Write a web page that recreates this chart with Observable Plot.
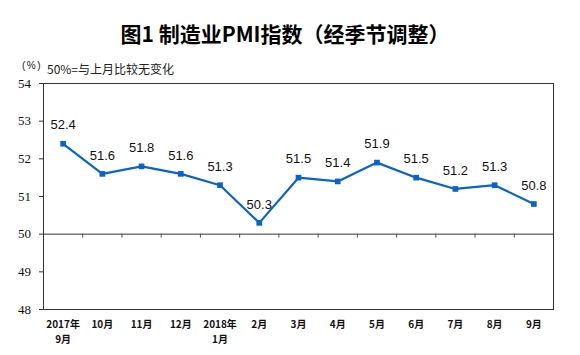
<!DOCTYPE html>
<html>
<head>
<meta charset="utf-8">
<script src="https://cdn.jsdelivr.net/npm/d3@7"></script>
<script src="https://cdn.jsdelivr.net/npm/@observablehq/plot@0.6"></script>
<style>
  html, body { margin: 0; padding: 0; background: #fff; }
  #wrap { position: relative; width: 580px; height: 355px; overflow: hidden; }
  #title { position: absolute; left: 0; width: 570px; top: 19px; text-align: center;
    font-family: "Noto Sans CJK SC", sans-serif; font-weight: bold; font-size: 21px; line-height: 28px; color: #000; }
  #unit { position: absolute; left: 22px; top: 58px; font-family: "Liberation Sans", sans-serif; font-size: 10px; line-height: 16px; letter-spacing: 1.5px; color: #222; }
  #note { position: absolute; left: 47px; top: 61px; font-family: "Noto Sans CJK SC", sans-serif; font-size: 12px; line-height: 16px; color: #222; }
  #chart { position: absolute; left: 0; top: 0; }
</style>
</head>
<body>
<div id="wrap">
  <div id="chart"></div>
  <div id="title">图1 制造业PMI指数（经季节调整）</div>
  <div id="unit">(%)</div>
  <div id="note">50%=与上月比较无变化</div>
</div>
<script>
const months = ["2017年\n9月", "10月", "11月", "12月", "2018年\n1月", "2月", "3月", "4月", "5月", "6月", "7月", "8月", "9月"];
const pmi = [52.4, 51.6, 51.8, 51.6, 51.3, 50.3, 51.5, 51.4, 51.9, 51.5, 51.2, 51.3, 50.8];
const yTicks = [48, 49, 50, 51, 52, 53, 54];

const data = pmi.map((v, i) => ({i, v, label: months[i]}));
const boundaries = d3.range(0.5, months.length - 1, 1);

const chart = Plot.plot({
  width: 580,
  height: 355,
  marginLeft: 43,
  marginRight: 27,
  marginTop: 83,
  marginBottom: 46,
  style: {background: "transparent"},
  x: {domain: [-0.5, months.length - 0.5], axis: null},
  y: {domain: [48, 54], axis: null},
  marks: [
    Plot.frame({stroke: "#333", strokeWidth: 1}),
    Plot.ruleY([50], {stroke: "#333", strokeWidth: 1}),
    Plot.ruleX(boundaries, {x: d => d, y1: 50, y2: 50, insetBottom: -4, stroke: "#555"}),
    Plot.axisY({ticks: yTicks, tickSize: 4, tickPadding: 8.5, stroke: "#333", label: null,
      fontFamily: "Liberation Serif", fontSize: 13, fill: "#111", tickFormat: d => d}),
    Plot.text(data, {x: "i", frameAnchor: "bottom", text: "label", dy: 8.5, lineAnchor: "top",
      lineHeight: 1.45, fontFamily: "Noto Sans CJK SC", fontSize: 10, fontWeight: "bold", fill: "#111"}),
    Plot.line(data, {x: "i", y: "v", stroke: "#0a64c8", strokeWidth: 2.2}),
    Plot.dot(data, {x: "i", y: "v", symbol: "square", r: 3.2, fill: "#0a64c8", stroke: "none"}),
    Plot.text(data, {x: "i", y: "v", text: d => d.v.toFixed(1), dy: -18.5,
      fontFamily: "Liberation Sans", fontSize: 13, fill: "#111"})
  ]
});
document.getElementById("chart").append(chart);
</script>
</body>
</html>
